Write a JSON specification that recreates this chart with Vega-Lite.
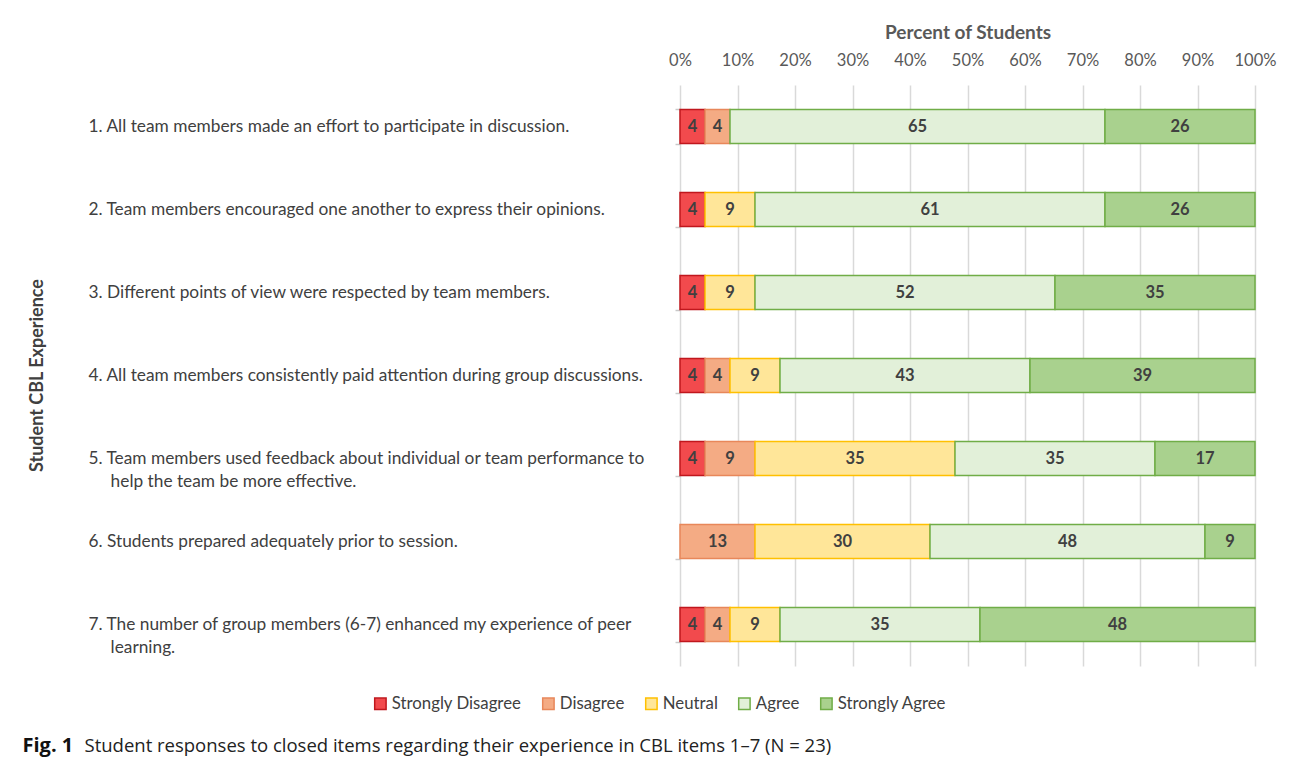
{
  "$schema": "https://vega.github.io/schema/vega-lite/v6.json",
  "autosize": "none",
  "width": 575,
  "height": 581,
  "padding": {"left": 680, "top": 85, "right": 37, "bottom": 93},
  "background": "white",
  "config": {
    "view": {"stroke": null},
    "font": "Lato",
    "axis": {"labelFont": "Lato", "titleFont": "Lato"}
  },
  "data": {
    "values": [
      {"item": "1. All team members made an effort to participate in discussion.", "response": "Strongly Disagree", "rank": 1, "count": 1, "label": "4"},
      {"item": "1. All team members made an effort to participate in discussion.", "response": "Disagree", "rank": 2, "count": 1, "label": "4"},
      {"item": "1. All team members made an effort to participate in discussion.", "response": "Agree", "rank": 4, "count": 15, "label": "65"},
      {"item": "1. All team members made an effort to participate in discussion.", "response": "Strongly Agree", "rank": 5, "count": 6, "label": "26"},
      {"item": "2. Team members encouraged one another to express their opinions.", "response": "Strongly Disagree", "rank": 1, "count": 1, "label": "4"},
      {"item": "2. Team members encouraged one another to express their opinions.", "response": "Neutral", "rank": 3, "count": 2, "label": "9"},
      {"item": "2. Team members encouraged one another to express their opinions.", "response": "Agree", "rank": 4, "count": 14, "label": "61"},
      {"item": "2. Team members encouraged one another to express their opinions.", "response": "Strongly Agree", "rank": 5, "count": 6, "label": "26"},
      {"item": "3. Different points of view were respected by team members.", "response": "Strongly Disagree", "rank": 1, "count": 1, "label": "4"},
      {"item": "3. Different points of view were respected by team members.", "response": "Neutral", "rank": 3, "count": 2, "label": "9"},
      {"item": "3. Different points of view were respected by team members.", "response": "Agree", "rank": 4, "count": 12, "label": "52"},
      {"item": "3. Different points of view were respected by team members.", "response": "Strongly Agree", "rank": 5, "count": 8, "label": "35"},
      {"item": "4. All team members consistently paid attention during group discussions.", "response": "Strongly Disagree", "rank": 1, "count": 1, "label": "4"},
      {"item": "4. All team members consistently paid attention during group discussions.", "response": "Disagree", "rank": 2, "count": 1, "label": "4"},
      {"item": "4. All team members consistently paid attention during group discussions.", "response": "Neutral", "rank": 3, "count": 2, "label": "9"},
      {"item": "4. All team members consistently paid attention during group discussions.", "response": "Agree", "rank": 4, "count": 10, "label": "43"},
      {"item": "4. All team members consistently paid attention during group discussions.", "response": "Strongly Agree", "rank": 5, "count": 9, "label": "39"},
      {"item": "5. Team members used feedback about individual or team performance to|\u200b\u00a0\u00a0\u00a0\u00a0\u00a0help the team be more effective.", "response": "Strongly Disagree", "rank": 1, "count": 1, "label": "4"},
      {"item": "5. Team members used feedback about individual or team performance to|\u200b\u00a0\u00a0\u00a0\u00a0\u00a0help the team be more effective.", "response": "Disagree", "rank": 2, "count": 2, "label": "9"},
      {"item": "5. Team members used feedback about individual or team performance to|\u200b\u00a0\u00a0\u00a0\u00a0\u00a0help the team be more effective.", "response": "Neutral", "rank": 3, "count": 8, "label": "35"},
      {"item": "5. Team members used feedback about individual or team performance to|\u200b\u00a0\u00a0\u00a0\u00a0\u00a0help the team be more effective.", "response": "Agree", "rank": 4, "count": 8, "label": "35"},
      {"item": "5. Team members used feedback about individual or team performance to|\u200b\u00a0\u00a0\u00a0\u00a0\u00a0help the team be more effective.", "response": "Strongly Agree", "rank": 5, "count": 4, "label": "17"},
      {"item": "6. Students prepared adequately prior to session.", "response": "Disagree", "rank": 2, "count": 3, "label": "13"},
      {"item": "6. Students prepared adequately prior to session.", "response": "Neutral", "rank": 3, "count": 7, "label": "30"},
      {"item": "6. Students prepared adequately prior to session.", "response": "Agree", "rank": 4, "count": 11, "label": "48"},
      {"item": "6. Students prepared adequately prior to session.", "response": "Strongly Agree", "rank": 5, "count": 2, "label": "9"},
      {"item": "7. The number of group members (6-7) enhanced my experience of peer|\u200b\u00a0\u00a0\u00a0\u00a0\u00a0learning.", "response": "Strongly Disagree", "rank": 1, "count": 1, "label": "4"},
      {"item": "7. The number of group members (6-7) enhanced my experience of peer|\u200b\u00a0\u00a0\u00a0\u00a0\u00a0learning.", "response": "Disagree", "rank": 2, "count": 1, "label": "4"},
      {"item": "7. The number of group members (6-7) enhanced my experience of peer|\u200b\u00a0\u00a0\u00a0\u00a0\u00a0learning.", "response": "Neutral", "rank": 3, "count": 2, "label": "9"},
      {"item": "7. The number of group members (6-7) enhanced my experience of peer|\u200b\u00a0\u00a0\u00a0\u00a0\u00a0learning.", "response": "Agree", "rank": 4, "count": 8, "label": "35"},
      {"item": "7. The number of group members (6-7) enhanced my experience of peer|\u200b\u00a0\u00a0\u00a0\u00a0\u00a0learning.", "response": "Strongly Agree", "rank": 5, "count": 11, "label": "48"}
    ]
  },
  "resolve": {"axis": {"x": "independent", "y": "independent"}},
  "layer": [
    {
      "mark": {"type": "bar", "strokeWidth": 1.5},
      "encoding": {
        "y": {
          "field": "item",
          "type": "nominal",
          "sort": null,
          "scale": {"paddingInner": 0.59, "paddingOuter": 0.295},
          "axis": {
            "orient": "left",
            "title": "Student CBL Experience",
            "titleFont": "Lato",
            "titleFontSize": 18,
            "titleFontWeight": "bold",
            "titleColor": "#404040",
            "titleAngle": -90,
            "titleX": -643,
            "titleY": 290,
            "titleAlign": "center",
            "titleBaseline": "middle",
            "labelExpr": "split(datum.label, '|')",
            "labelAlign": "left",
            "labelBaseline": "middle",
            "labelPadding": 587,
            "labelFontSize": 17.3,
            "labelColor": "#404040",
            "labelLineHeight": 23,
            "labelLimit": 0,
            "tickBand": "extent",
            "tickSize": 5,
            "tickColor": "#c8c8c8",
            "tickWidth": 1.5,
            "domain": false,
            "grid": false
          }
        },
        "x": {
          "field": "count",
          "type": "quantitative",
          "stack": "normalize",
          "scale": {"domain": [0, 1], "nice": false},
          "axis": {
            "orient": "top",
            "title": "Percent of Students",
            "titleFontSize": 19,
            "titleFontWeight": "bold",
            "titleColor": "#595959",
            "titlePadding": 10,
            "format": ".0%",
            "values": [0, 0.1, 0.2, 0.3, 0.4, 0.5, 0.6, 0.7, 0.8, 0.9, 1],
            "labelFontSize": 16.5,
            "labelColor": "#595959",
            "labelPadding": 17,
            "labelOverlap": false,
            "labelBound": false,
            "labelFlush": false,
            "ticks": false,
            "tickSize": 0,
            "domain": false,
            "grid": true,
            "gridColor": "#d9d9d9",
            "gridWidth": 1.5
          }
        },
        "order": {"field": "rank", "type": "quantitative"},
        "fill": {
          "field": "response",
          "type": "nominal",
          "scale": {
            "domain": ["Strongly Disagree", "Disagree", "Neutral", "Agree", "Strongly Agree"],
            "range": ["#f24a4d", "#f4ab84", "#ffe699", "#e2f0d9", "#a9d18e"]
          },
          "legend": {
            "orient": "none",
            "legendX": -308,
            "legendY": 610,
            "direction": "horizontal",
            "title": null,
            "symbolType": "square",
            "symbolSize": 130,
            "symbolStrokeWidth": 1.5,
            "labelFont": "Lato",
            "labelFontSize": 16.8,
            "labelColor": "#404040",
            "columnPadding": 17,
            "labelOffset": 3
          }
        },
        "stroke": {
          "field": "response",
          "type": "nominal",
          "scale": {
            "domain": ["Strongly Disagree", "Disagree", "Neutral", "Agree", "Strongly Agree"],
            "range": ["#c0171d", "#e8875a", "#ffc000", "#70ad47", "#70ad47"]
          },
          "legend": {
            "orient": "none",
            "legendX": -308,
            "legendY": 610,
            "direction": "horizontal",
            "title": null,
            "symbolType": "square",
            "symbolSize": 130,
            "symbolStrokeWidth": 1.5,
            "labelFont": "Lato",
            "labelFontSize": 16.8,
            "labelColor": "#404040",
            "columnPadding": 17,
            "labelOffset": 3
          }
        }
      }
    },
    {
      "mark": {"type": "text", "font": "Lato", "fontSize": 16.5, "fontWeight": "bold", "color": "#404040"},
      "encoding": {
        "y": {
          "field": "item",
          "type": "nominal",
          "sort": null,
          "axis": {
            "orient": "right",
            "title": "Fig. 1",
            "titleFont": "Open Sans",
            "titleFontSize": 20,
            "titleFontWeight": "bold",
            "titleColor": "#111111",
            "titleAngle": 0,
            "titleX": -1233,
            "titleY": 660,
            "titleAlign": "left",
            "titleBaseline": "middle",
            "labels": false,
            "ticks": false,
            "domain": false,
            "grid": false
          }
        },
        "x": {
          "field": "count",
          "type": "quantitative",
          "stack": "normalize",
          "bandPosition": 0.5,
          "axis": {
            "orient": "bottom",
            "title": "Student responses to closed items regarding their experience in CBL items 1–7 (N = 23)",
            "titleFont": "Open Sans",
            "titleFontSize": 18.5,
            "titleFontWeight": "normal",
            "titleColor": "#222222",
            "titleX": -596,
            "titleY": 79,
            "titleAlign": "left",
            "titleAnchor": "start",
            "titleBaseline": "middle",
            "labels": false,
            "ticks": false,
            "domain": false,
            "grid": false
          }
        },
        "order": {"field": "rank", "type": "quantitative"},
        "text": {"field": "label", "type": "nominal"}
      }
    }
  ]
}
